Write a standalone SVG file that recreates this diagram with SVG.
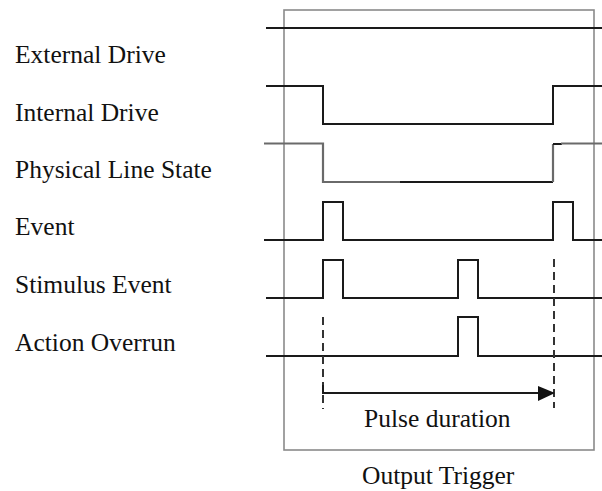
<svg xmlns="http://www.w3.org/2000/svg" width="602" height="491" viewBox="0 0 602 491">
<style>
text{font-family:"Liberation Serif","Times New Roman",serif;font-size:25.5px;fill:#111}
.sig{fill:none;stroke:#1a1a1a;stroke-width:2;stroke-linejoin:miter}
.grey{fill:none;stroke:#6a6a6a;stroke-width:2.2}
.box{fill:none;stroke:#8a8a8a;stroke-width:1.6}
.dash{fill:none;stroke:#333;stroke-width:2;stroke-dasharray:8,5}
</style>
<rect class="box" x="284" y="10" width="310" height="440"/>
<g id="labels">
<text x="15" y="63">External Drive</text>
<text x="15" y="121">Internal Drive</text>
<text x="15" y="178">Physical Line State</text>
<text x="15" y="235">Event</text>
<text x="15" y="293">Stimulus Event</text>
<text x="15" y="351">Action Overrun</text>
</g>
<g id="external-drive"><polyline class="sig" points="266,28 602,28"/></g>
<g id="internal-drive"><polyline class="sig" points="266,86 323,86 323,124 553,124 553,86 602,86"/></g>
<g id="physical-line-state">
<polyline class="grey" points="264,143.5 323,143.5 323,182 400,182"/>
<polyline class="sig" points="400,182 553,182"/>
<polyline class="grey" points="553,182 553,144"/>
<polyline class="sig" points="553,144 562,144"/>
<polyline class="grey" points="561,143.5 602,143.5"/>
</g>
<g id="event"><polyline class="sig" points="264,240 323,240 323,202 343,202 343,240 553,240 553,202 573,202 573,240 602,240"/></g>
<g id="stimulus-event"><polyline class="sig" points="266,298 323,298 323,260 343,260 343,298 458,298 458,260 478,260 478,298 602,298"/></g>
<g id="action-overrun"><polyline class="sig" points="266,356 458,356 458,317 478,317 478,356 602,356"/></g>
<g id="connectors">
<line class="dash" x1="323" y1="317" x2="323" y2="409"/>
<line class="dash" x1="554" y1="259" x2="554" y2="408"/>
<polyline class="sig" points="323,385 323,393 540,393"/>
<polygon points="538,386 555,393 538,401" fill="#111"/>
</g>
<text x="364" y="427">Pulse duration</text>
<text x="362" y="484">Output Trigger</text>
</svg>
